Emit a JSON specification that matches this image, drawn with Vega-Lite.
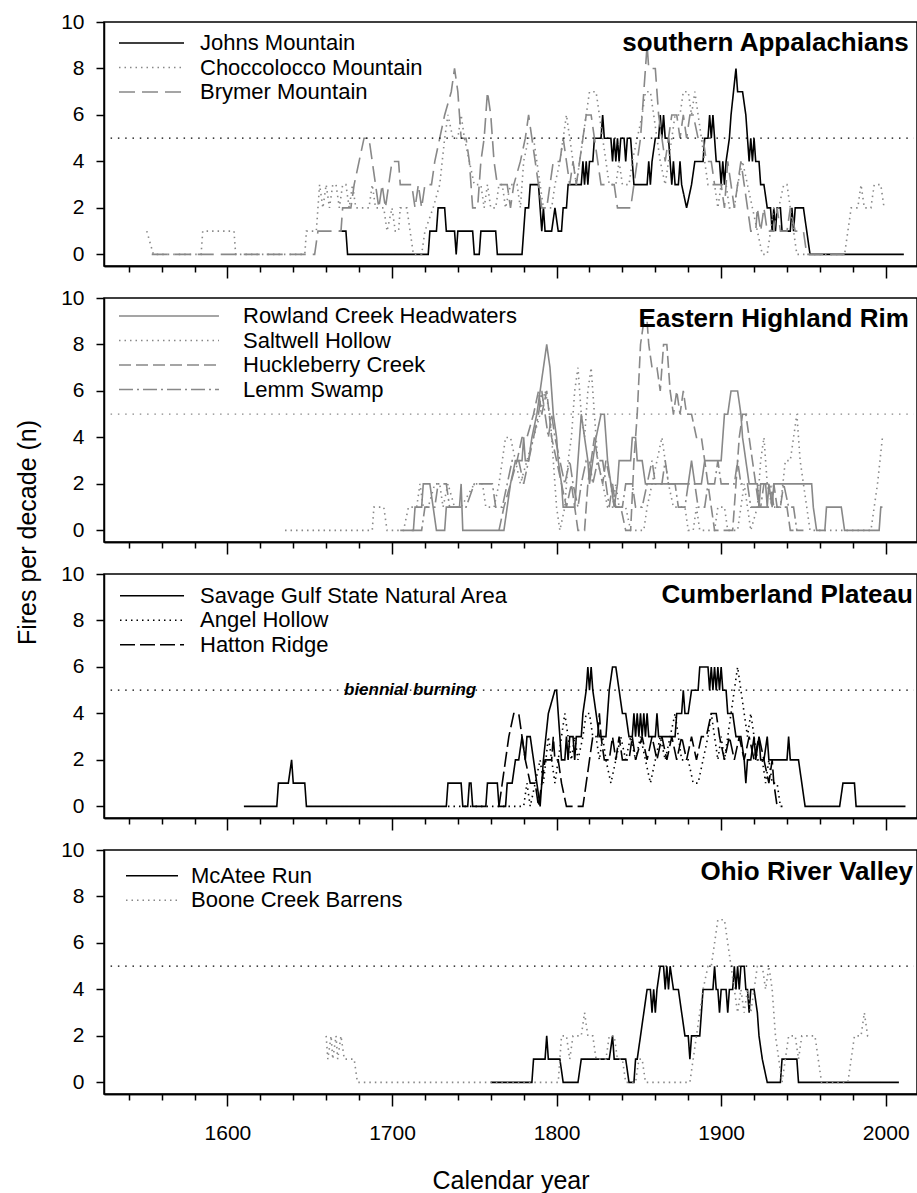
{
"$schema": "https://vega.github.io/schema/vega-lite/v6.json",
"padding": {"left": 14, "top": 10, "right": 0, "bottom": 0},
"config": {
  "font": "Liberation Sans",
  "view": {"stroke": "black", "strokeWidth": 1.5},
  "axis": {"domainColor": "black", "domainWidth": 1.5, "tickColor": "black", "tickWidth": 1.5, "labelColor": "black", "labelFontSize": 21, "titleColor": "black", "titleFontSize": 25, "titleFontWeight": "normal", "grid": false},
  "legend": {"labelColor": "black", "labelFontSize": 22, "padding": 0, "rowPadding": 2.5, "labelLimit": 0, "symbolStrokeWidth": 1.6}
},
"bounds": "flush",
"spacing": 32,
"resolve": {"scale": {"color": "independent", "strokeDash": "independent"}, "legend": {"color": "independent", "strokeDash": "independent"}},
"datasets": {
"p1": [
{"site":"Johns Mountain","year":1668,"n":1},{"site":"Johns Mountain","year":1672,"n":1},{"site":"Johns Mountain","year":1673,"n":0},{"site":"Johns Mountain","year":1722,"n":0},{"site":"Johns Mountain","year":1723,"n":1},{"site":"Johns Mountain","year":1727,"n":1},{"site":"Johns Mountain","year":1728,"n":2},{"site":"Johns Mountain","year":1732,"n":2},{"site":"Johns Mountain","year":1733,"n":1},{"site":"Johns Mountain","year":1738,"n":1},{"site":"Johns Mountain","year":1739,"n":0},{"site":"Johns Mountain","year":1740,"n":1},{"site":"Johns Mountain","year":1749,"n":1},{"site":"Johns Mountain","year":1750,"n":0},{"site":"Johns Mountain","year":1753,"n":0},{"site":"Johns Mountain","year":1754,"n":1},{"site":"Johns Mountain","year":1763,"n":1},{"site":"Johns Mountain","year":1764,"n":0},{"site":"Johns Mountain","year":1779,"n":0},{"site":"Johns Mountain","year":1780,"n":1},{"site":"Johns Mountain","year":1781,"n":2},{"site":"Johns Mountain","year":1783,"n":2},{"site":"Johns Mountain","year":1784,"n":3},{"site":"Johns Mountain","year":1789,"n":3},{"site":"Johns Mountain","year":1790,"n":2},{"site":"Johns Mountain","year":1791,"n":1},{"site":"Johns Mountain","year":1792,"n":2},{"site":"Johns Mountain","year":1793,"n":1},{"site":"Johns Mountain","year":1797,"n":1},{"site":"Johns Mountain","year":1799,"n":2},{"site":"Johns Mountain","year":1801,"n":1},{"site":"Johns Mountain","year":1803,"n":1},{"site":"Johns Mountain","year":1804,"n":2},{"site":"Johns Mountain","year":1806,"n":2},{"site":"Johns Mountain","year":1807,"n":3},{"site":"Johns Mountain","year":1815,"n":3},{"site":"Johns Mountain","year":1816,"n":4},{"site":"Johns Mountain","year":1817,"n":3},{"site":"Johns Mountain","year":1818,"n":4},{"site":"Johns Mountain","year":1819,"n":3},{"site":"Johns Mountain","year":1820,"n":4},{"site":"Johns Mountain","year":1822,"n":4},{"site":"Johns Mountain","year":1823,"n":5},{"site":"Johns Mountain","year":1827,"n":5},{"site":"Johns Mountain","year":1828,"n":6},{"site":"Johns Mountain","year":1829,"n":5},{"site":"Johns Mountain","year":1833,"n":5},{"site":"Johns Mountain","year":1834,"n":4},{"site":"Johns Mountain","year":1835,"n":5},{"site":"Johns Mountain","year":1836,"n":4},{"site":"Johns Mountain","year":1837,"n":5},{"site":"Johns Mountain","year":1838,"n":4},{"site":"Johns Mountain","year":1839,"n":5},{"site":"Johns Mountain","year":1841,"n":5},{"site":"Johns Mountain","year":1842,"n":4},{"site":"Johns Mountain","year":1843,"n":5},{"site":"Johns Mountain","year":1845,"n":5},{"site":"Johns Mountain","year":1846,"n":4},{"site":"Johns Mountain","year":1847,"n":3},{"site":"Johns Mountain","year":1855,"n":3},{"site":"Johns Mountain","year":1856,"n":4},{"site":"Johns Mountain","year":1857,"n":3},{"site":"Johns Mountain","year":1858,"n":4},{"site":"Johns Mountain","year":1860,"n":5},{"site":"Johns Mountain","year":1862,"n":5},{"site":"Johns Mountain","year":1863,"n":6},{"site":"Johns Mountain","year":1864,"n":5},{"site":"Johns Mountain","year":1865,"n":6},{"site":"Johns Mountain","year":1866,"n":5},{"site":"Johns Mountain","year":1868,"n":5},{"site":"Johns Mountain","year":1869,"n":4},{"site":"Johns Mountain","year":1870,"n":3},{"site":"Johns Mountain","year":1871,"n":4},{"site":"Johns Mountain","year":1872,"n":3},{"site":"Johns Mountain","year":1874,"n":3},{"site":"Johns Mountain","year":1875,"n":4},{"site":"Johns Mountain","year":1876,"n":3},{"site":"Johns Mountain","year":1879,"n":2},{"site":"Johns Mountain","year":1882,"n":3},{"site":"Johns Mountain","year":1884,"n":4},{"site":"Johns Mountain","year":1889,"n":4},{"site":"Johns Mountain","year":1890,"n":5},{"site":"Johns Mountain","year":1892,"n":5},{"site":"Johns Mountain","year":1893,"n":6},{"site":"Johns Mountain","year":1894,"n":5},{"site":"Johns Mountain","year":1895,"n":6},{"site":"Johns Mountain","year":1896,"n":5},{"site":"Johns Mountain","year":1897,"n":4},{"site":"Johns Mountain","year":1899,"n":4},{"site":"Johns Mountain","year":1900,"n":3},{"site":"Johns Mountain","year":1901,"n":4},{"site":"Johns Mountain","year":1902,"n":3},{"site":"Johns Mountain","year":1903,"n":4},{"site":"Johns Mountain","year":1905,"n":5},{"site":"Johns Mountain","year":1906,"n":6},{"site":"Johns Mountain","year":1909,"n":8},{"site":"Johns Mountain","year":1910,"n":7},{"site":"Johns Mountain","year":1913,"n":7},{"site":"Johns Mountain","year":1915,"n":6},{"site":"Johns Mountain","year":1916,"n":5},{"site":"Johns Mountain","year":1917,"n":4},{"site":"Johns Mountain","year":1918,"n":5},{"site":"Johns Mountain","year":1919,"n":4},{"site":"Johns Mountain","year":1920,"n":5},{"site":"Johns Mountain","year":1921,"n":4},{"site":"Johns Mountain","year":1923,"n":4},{"site":"Johns Mountain","year":1924,"n":3},{"site":"Johns Mountain","year":1926,"n":3},{"site":"Johns Mountain","year":1928,"n":2},{"site":"Johns Mountain","year":1930,"n":2},{"site":"Johns Mountain","year":1931,"n":1},{"site":"Johns Mountain","year":1932,"n":2},{"site":"Johns Mountain","year":1933,"n":1},{"site":"Johns Mountain","year":1934,"n":2},{"site":"Johns Mountain","year":1936,"n":2},{"site":"Johns Mountain","year":1937,"n":1},{"site":"Johns Mountain","year":1942,"n":1},{"site":"Johns Mountain","year":1943,"n":2},{"site":"Johns Mountain","year":1944,"n":1},{"site":"Johns Mountain","year":1945,"n":2},{"site":"Johns Mountain","year":1950,"n":2},{"site":"Johns Mountain","year":1952,"n":1},{"site":"Johns Mountain","year":1954,"n":0},{"site":"Johns Mountain","year":2011,"n":0},
{"site":"Choccolocco Mountain","year":1551,"n":1},{"site":"Choccolocco Mountain","year":1555,"n":0},{"site":"Choccolocco Mountain","year":1584,"n":0},{"site":"Choccolocco Mountain","year":1585,"n":1},{"site":"Choccolocco Mountain","year":1604,"n":1},{"site":"Choccolocco Mountain","year":1605,"n":0},{"site":"Choccolocco Mountain","year":1647,"n":0},{"site":"Choccolocco Mountain","year":1648,"n":1},{"site":"Choccolocco Mountain","year":1654,"n":1},{"site":"Choccolocco Mountain","year":1655,"n":2},{"site":"Choccolocco Mountain","year":1656,"n":3},{"site":"Choccolocco Mountain","year":1658,"n":2},{"site":"Choccolocco Mountain","year":1660,"n":3},{"site":"Choccolocco Mountain","year":1662,"n":2},{"site":"Choccolocco Mountain","year":1664,"n":3},{"site":"Choccolocco Mountain","year":1666,"n":3},{"site":"Choccolocco Mountain","year":1668,"n":2},{"site":"Choccolocco Mountain","year":1670,"n":3},{"site":"Choccolocco Mountain","year":1672,"n":3},{"site":"Choccolocco Mountain","year":1674,"n":2},{"site":"Choccolocco Mountain","year":1676,"n":3},{"site":"Choccolocco Mountain","year":1678,"n":2},{"site":"Choccolocco Mountain","year":1686,"n":2},{"site":"Choccolocco Mountain","year":1688,"n":3},{"site":"Choccolocco Mountain","year":1690,"n":2},{"site":"Choccolocco Mountain","year":1695,"n":2},{"site":"Choccolocco Mountain","year":1697,"n":1},{"site":"Choccolocco Mountain","year":1700,"n":2},{"site":"Choccolocco Mountain","year":1702,"n":1},{"site":"Choccolocco Mountain","year":1704,"n":1},{"site":"Choccolocco Mountain","year":1705,"n":2},{"site":"Choccolocco Mountain","year":1709,"n":2},{"site":"Choccolocco Mountain","year":1711,"n":1},{"site":"Choccolocco Mountain","year":1713,"n":0},{"site":"Choccolocco Mountain","year":1718,"n":0},{"site":"Choccolocco Mountain","year":1720,"n":1},{"site":"Choccolocco Mountain","year":1725,"n":2},{"site":"Choccolocco Mountain","year":1729,"n":3},{"site":"Choccolocco Mountain","year":1732,"n":5},{"site":"Choccolocco Mountain","year":1734,"n":6},{"site":"Choccolocco Mountain","year":1737,"n":5},{"site":"Choccolocco Mountain","year":1740,"n":5},{"site":"Choccolocco Mountain","year":1742,"n":6},{"site":"Choccolocco Mountain","year":1744,"n":5},{"site":"Choccolocco Mountain","year":1747,"n":4},{"site":"Choccolocco Mountain","year":1750,"n":3},{"site":"Choccolocco Mountain","year":1754,"n":3},{"site":"Choccolocco Mountain","year":1756,"n":2},{"site":"Choccolocco Mountain","year":1758,"n":3},{"site":"Choccolocco Mountain","year":1760,"n":2},{"site":"Choccolocco Mountain","year":1763,"n":2},{"site":"Choccolocco Mountain","year":1765,"n":3},{"site":"Choccolocco Mountain","year":1767,"n":3},{"site":"Choccolocco Mountain","year":1769,"n":2},{"site":"Choccolocco Mountain","year":1772,"n":3},{"site":"Choccolocco Mountain","year":1776,"n":3},{"site":"Choccolocco Mountain","year":1778,"n":2},{"site":"Choccolocco Mountain","year":1780,"n":4},{"site":"Choccolocco Mountain","year":1783,"n":5},{"site":"Choccolocco Mountain","year":1786,"n":5},{"site":"Choccolocco Mountain","year":1788,"n":4},{"site":"Choccolocco Mountain","year":1790,"n":3},{"site":"Choccolocco Mountain","year":1792,"n":2},{"site":"Choccolocco Mountain","year":1797,"n":2},{"site":"Choccolocco Mountain","year":1799,"n":3},{"site":"Choccolocco Mountain","year":1802,"n":4},{"site":"Choccolocco Mountain","year":1804,"n":5},{"site":"Choccolocco Mountain","year":1806,"n":6},{"site":"Choccolocco Mountain","year":1808,"n":5},{"site":"Choccolocco Mountain","year":1810,"n":4},{"site":"Choccolocco Mountain","year":1812,"n":3},{"site":"Choccolocco Mountain","year":1814,"n":4},{"site":"Choccolocco Mountain","year":1816,"n":5},{"site":"Choccolocco Mountain","year":1818,"n":6},{"site":"Choccolocco Mountain","year":1820,"n":7},{"site":"Choccolocco Mountain","year":1824,"n":7},{"site":"Choccolocco Mountain","year":1826,"n":6},{"site":"Choccolocco Mountain","year":1828,"n":5},{"site":"Choccolocco Mountain","year":1830,"n":4},{"site":"Choccolocco Mountain","year":1832,"n":3},{"site":"Choccolocco Mountain","year":1836,"n":3},{"site":"Choccolocco Mountain","year":1838,"n":4},{"site":"Choccolocco Mountain","year":1840,"n":3},{"site":"Choccolocco Mountain","year":1844,"n":3},{"site":"Choccolocco Mountain","year":1846,"n":4},{"site":"Choccolocco Mountain","year":1849,"n":5},{"site":"Choccolocco Mountain","year":1852,"n":6},{"site":"Choccolocco Mountain","year":1854,"n":7},{"site":"Choccolocco Mountain","year":1857,"n":7},{"site":"Choccolocco Mountain","year":1859,"n":6},{"site":"Choccolocco Mountain","year":1861,"n":5},{"site":"Choccolocco Mountain","year":1863,"n":4},{"site":"Choccolocco Mountain","year":1866,"n":3},{"site":"Choccolocco Mountain","year":1868,"n":4},{"site":"Choccolocco Mountain","year":1870,"n":5},{"site":"Choccolocco Mountain","year":1872,"n":6},{"site":"Choccolocco Mountain","year":1875,"n":6},{"site":"Choccolocco Mountain","year":1877,"n":7},{"site":"Choccolocco Mountain","year":1880,"n":7},{"site":"Choccolocco Mountain","year":1882,"n":6},{"site":"Choccolocco Mountain","year":1884,"n":7},{"site":"Choccolocco Mountain","year":1886,"n":6},{"site":"Choccolocco Mountain","year":1888,"n":5},{"site":"Choccolocco Mountain","year":1890,"n":4},{"site":"Choccolocco Mountain","year":1892,"n":3},{"site":"Choccolocco Mountain","year":1896,"n":3},{"site":"Choccolocco Mountain","year":1898,"n":2},{"site":"Choccolocco Mountain","year":1900,"n":3},{"site":"Choccolocco Mountain","year":1903,"n":3},{"site":"Choccolocco Mountain","year":1905,"n":2},{"site":"Choccolocco Mountain","year":1908,"n":2},{"site":"Choccolocco Mountain","year":1910,"n":3},{"site":"Choccolocco Mountain","year":1913,"n":4},{"site":"Choccolocco Mountain","year":1916,"n":3},{"site":"Choccolocco Mountain","year":1919,"n":2},{"site":"Choccolocco Mountain","year":1922,"n":1},{"site":"Choccolocco Mountain","year":1925,"n":0},{"site":"Choccolocco Mountain","year":1928,"n":0},{"site":"Choccolocco Mountain","year":1930,"n":1},{"site":"Choccolocco Mountain","year":1932,"n":2},{"site":"Choccolocco Mountain","year":1935,"n":2},{"site":"Choccolocco Mountain","year":1938,"n":3},{"site":"Choccolocco Mountain","year":1940,"n":3},{"site":"Choccolocco Mountain","year":1942,"n":2},{"site":"Choccolocco Mountain","year":1944,"n":1},{"site":"Choccolocco Mountain","year":1946,"n":0},{"site":"Choccolocco Mountain","year":1975,"n":0},{"site":"Choccolocco Mountain","year":1977,"n":1},{"site":"Choccolocco Mountain","year":1979,"n":2},{"site":"Choccolocco Mountain","year":1983,"n":2},{"site":"Choccolocco Mountain","year":1985,"n":3},{"site":"Choccolocco Mountain","year":1987,"n":2},{"site":"Choccolocco Mountain","year":1991,"n":2},{"site":"Choccolocco Mountain","year":1993,"n":3},{"site":"Choccolocco Mountain","year":1997,"n":3},{"site":"Choccolocco Mountain","year":1999,"n":2},
{"site":"Brymer Mountain","year":1554,"n":0},{"site":"Brymer Mountain","year":1653,"n":0},{"site":"Brymer Mountain","year":1655,"n":1},{"site":"Brymer Mountain","year":1669,"n":1},{"site":"Brymer Mountain","year":1670,"n":2},{"site":"Brymer Mountain","year":1675,"n":2},{"site":"Brymer Mountain","year":1677,"n":3},{"site":"Brymer Mountain","year":1680,"n":4},{"site":"Brymer Mountain","year":1683,"n":5},{"site":"Brymer Mountain","year":1686,"n":5},{"site":"Brymer Mountain","year":1688,"n":4},{"site":"Brymer Mountain","year":1690,"n":3},{"site":"Brymer Mountain","year":1692,"n":2},{"site":"Brymer Mountain","year":1694,"n":3},{"site":"Brymer Mountain","year":1696,"n":2},{"site":"Brymer Mountain","year":1698,"n":3},{"site":"Brymer Mountain","year":1700,"n":4},{"site":"Brymer Mountain","year":1704,"n":4},{"site":"Brymer Mountain","year":1705,"n":3},{"site":"Brymer Mountain","year":1712,"n":3},{"site":"Brymer Mountain","year":1714,"n":2},{"site":"Brymer Mountain","year":1716,"n":3},{"site":"Brymer Mountain","year":1718,"n":2},{"site":"Brymer Mountain","year":1720,"n":3},{"site":"Brymer Mountain","year":1724,"n":3},{"site":"Brymer Mountain","year":1726,"n":4},{"site":"Brymer Mountain","year":1729,"n":5},{"site":"Brymer Mountain","year":1732,"n":6},{"site":"Brymer Mountain","year":1736,"n":7},{"site":"Brymer Mountain","year":1738,"n":8},{"site":"Brymer Mountain","year":1740,"n":7},{"site":"Brymer Mountain","year":1742,"n":5},{"site":"Brymer Mountain","year":1745,"n":5},{"site":"Brymer Mountain","year":1747,"n":4},{"site":"Brymer Mountain","year":1749,"n":2},{"site":"Brymer Mountain","year":1752,"n":2},{"site":"Brymer Mountain","year":1753,"n":3},{"site":"Brymer Mountain","year":1754,"n":4},{"site":"Brymer Mountain","year":1756,"n":5},{"site":"Brymer Mountain","year":1758,"n":7},{"site":"Brymer Mountain","year":1760,"n":6},{"site":"Brymer Mountain","year":1762,"n":4},{"site":"Brymer Mountain","year":1764,"n":3},{"site":"Brymer Mountain","year":1770,"n":3},{"site":"Brymer Mountain","year":1772,"n":2},{"site":"Brymer Mountain","year":1774,"n":3},{"site":"Brymer Mountain","year":1778,"n":4},{"site":"Brymer Mountain","year":1781,"n":5},{"site":"Brymer Mountain","year":1783,"n":6},{"site":"Brymer Mountain","year":1785,"n":5},{"site":"Brymer Mountain","year":1787,"n":4},{"site":"Brymer Mountain","year":1789,"n":3},{"site":"Brymer Mountain","year":1791,"n":2},{"site":"Brymer Mountain","year":1794,"n":2},{"site":"Brymer Mountain","year":1796,"n":3},{"site":"Brymer Mountain","year":1798,"n":4},{"site":"Brymer Mountain","year":1802,"n":4},{"site":"Brymer Mountain","year":1804,"n":5},{"site":"Brymer Mountain","year":1806,"n":4},{"site":"Brymer Mountain","year":1808,"n":3},{"site":"Brymer Mountain","year":1810,"n":4},{"site":"Brymer Mountain","year":1812,"n":3},{"site":"Brymer Mountain","year":1814,"n":4},{"site":"Brymer Mountain","year":1816,"n":5},{"site":"Brymer Mountain","year":1818,"n":6},{"site":"Brymer Mountain","year":1821,"n":6},{"site":"Brymer Mountain","year":1823,"n":5},{"site":"Brymer Mountain","year":1825,"n":4},{"site":"Brymer Mountain","year":1827,"n":3},{"site":"Brymer Mountain","year":1835,"n":3},{"site":"Brymer Mountain","year":1837,"n":2},{"site":"Brymer Mountain","year":1845,"n":2},{"site":"Brymer Mountain","year":1847,"n":3},{"site":"Brymer Mountain","year":1849,"n":4},{"site":"Brymer Mountain","year":1851,"n":5},{"site":"Brymer Mountain","year":1853,"n":7},{"site":"Brymer Mountain","year":1855,"n":9},{"site":"Brymer Mountain","year":1856,"n":8},{"site":"Brymer Mountain","year":1860,"n":8},{"site":"Brymer Mountain","year":1861,"n":7},{"site":"Brymer Mountain","year":1862,"n":6},{"site":"Brymer Mountain","year":1864,"n":5},{"site":"Brymer Mountain","year":1866,"n":4},{"site":"Brymer Mountain","year":1868,"n":5},{"site":"Brymer Mountain","year":1870,"n":6},{"site":"Brymer Mountain","year":1873,"n":6},{"site":"Brymer Mountain","year":1875,"n":5},{"site":"Brymer Mountain","year":1877,"n":6},{"site":"Brymer Mountain","year":1879,"n":5},{"site":"Brymer Mountain","year":1881,"n":6},{"site":"Brymer Mountain","year":1883,"n":6},{"site":"Brymer Mountain","year":1886,"n":5},{"site":"Brymer Mountain","year":1889,"n":5},{"site":"Brymer Mountain","year":1891,"n":4},{"site":"Brymer Mountain","year":1894,"n":4},{"site":"Brymer Mountain","year":1896,"n":3},{"site":"Brymer Mountain","year":1900,"n":3},{"site":"Brymer Mountain","year":1902,"n":2},{"site":"Brymer Mountain","year":1904,"n":4},{"site":"Brymer Mountain","year":1906,"n":3},{"site":"Brymer Mountain","year":1908,"n":2},{"site":"Brymer Mountain","year":1910,"n":3},{"site":"Brymer Mountain","year":1912,"n":4},{"site":"Brymer Mountain","year":1914,"n":3},{"site":"Brymer Mountain","year":1916,"n":2},{"site":"Brymer Mountain","year":1918,"n":1},{"site":"Brymer Mountain","year":1921,"n":1},{"site":"Brymer Mountain","year":1922,"n":2},{"site":"Brymer Mountain","year":1924,"n":1},{"site":"Brymer Mountain","year":1926,"n":2},{"site":"Brymer Mountain","year":1928,"n":1},{"site":"Brymer Mountain","year":1932,"n":1},{"site":"Brymer Mountain","year":1934,"n":2},{"site":"Brymer Mountain","year":1936,"n":1},{"site":"Brymer Mountain","year":1940,"n":1},{"site":"Brymer Mountain","year":1942,"n":2},{"site":"Brymer Mountain","year":1945,"n":1},{"site":"Brymer Mountain","year":1950,"n":1},{"site":"Brymer Mountain","year":1952,"n":0},{"site":"Brymer Mountain","year":1975,"n":0}
],
"p2": [
{"site":"Rowland Creek Headwaters","year":1705,"n":0},{"site":"Rowland Creek Headwaters","year":1713,"n":0},{"site":"Rowland Creek Headwaters","year":1714,"n":1},{"site":"Rowland Creek Headwaters","year":1718,"n":1},{"site":"Rowland Creek Headwaters","year":1719,"n":2},{"site":"Rowland Creek Headwaters","year":1723,"n":2},{"site":"Rowland Creek Headwaters","year":1725,"n":1},{"site":"Rowland Creek Headwaters","year":1727,"n":0},{"site":"Rowland Creek Headwaters","year":1732,"n":0},{"site":"Rowland Creek Headwaters","year":1733,"n":1},{"site":"Rowland Creek Headwaters","year":1741,"n":1},{"site":"Rowland Creek Headwaters","year":1742,"n":2},{"site":"Rowland Creek Headwaters","year":1743,"n":0},{"site":"Rowland Creek Headwaters","year":1768,"n":0},{"site":"Rowland Creek Headwaters","year":1770,"n":1},{"site":"Rowland Creek Headwaters","year":1772,"n":2},{"site":"Rowland Creek Headwaters","year":1775,"n":3},{"site":"Rowland Creek Headwaters","year":1779,"n":3},{"site":"Rowland Creek Headwaters","year":1780,"n":4},{"site":"Rowland Creek Headwaters","year":1781,"n":3},{"site":"Rowland Creek Headwaters","year":1783,"n":3},{"site":"Rowland Creek Headwaters","year":1785,"n":4},{"site":"Rowland Creek Headwaters","year":1788,"n":5},{"site":"Rowland Creek Headwaters","year":1790,"n":6},{"site":"Rowland Creek Headwaters","year":1792,"n":7},{"site":"Rowland Creek Headwaters","year":1794,"n":8},{"site":"Rowland Creek Headwaters","year":1796,"n":7},{"site":"Rowland Creek Headwaters","year":1797,"n":6},{"site":"Rowland Creek Headwaters","year":1798,"n":5},{"site":"Rowland Creek Headwaters","year":1800,"n":4},{"site":"Rowland Creek Headwaters","year":1801,"n":3},{"site":"Rowland Creek Headwaters","year":1803,"n":2},{"site":"Rowland Creek Headwaters","year":1804,"n":1},{"site":"Rowland Creek Headwaters","year":1811,"n":1},{"site":"Rowland Creek Headwaters","year":1813,"n":3},{"site":"Rowland Creek Headwaters","year":1815,"n":5},{"site":"Rowland Creek Headwaters","year":1817,"n":4},{"site":"Rowland Creek Headwaters","year":1819,"n":3},{"site":"Rowland Creek Headwaters","year":1820,"n":2},{"site":"Rowland Creek Headwaters","year":1822,"n":3},{"site":"Rowland Creek Headwaters","year":1824,"n":4},{"site":"Rowland Creek Headwaters","year":1827,"n":5},{"site":"Rowland Creek Headwaters","year":1829,"n":5},{"site":"Rowland Creek Headwaters","year":1831,"n":3},{"site":"Rowland Creek Headwaters","year":1833,"n":2},{"site":"Rowland Creek Headwaters","year":1835,"n":1},{"site":"Rowland Creek Headwaters","year":1837,"n":2},{"site":"Rowland Creek Headwaters","year":1838,"n":3},{"site":"Rowland Creek Headwaters","year":1845,"n":3},{"site":"Rowland Creek Headwaters","year":1846,"n":4},{"site":"Rowland Creek Headwaters","year":1848,"n":4},{"site":"Rowland Creek Headwaters","year":1849,"n":3},{"site":"Rowland Creek Headwaters","year":1852,"n":3},{"site":"Rowland Creek Headwaters","year":1854,"n":2},{"site":"Rowland Creek Headwaters","year":1880,"n":2},{"site":"Rowland Creek Headwaters","year":1882,"n":3},{"site":"Rowland Creek Headwaters","year":1884,"n":2},{"site":"Rowland Creek Headwaters","year":1888,"n":2},{"site":"Rowland Creek Headwaters","year":1890,"n":3},{"site":"Rowland Creek Headwaters","year":1900,"n":3},{"site":"Rowland Creek Headwaters","year":1902,"n":5},{"site":"Rowland Creek Headwaters","year":1904,"n":5},{"site":"Rowland Creek Headwaters","year":1906,"n":6},{"site":"Rowland Creek Headwaters","year":1910,"n":6},{"site":"Rowland Creek Headwaters","year":1912,"n":5},{"site":"Rowland Creek Headwaters","year":1913,"n":4},{"site":"Rowland Creek Headwaters","year":1915,"n":3},{"site":"Rowland Creek Headwaters","year":1917,"n":2},{"site":"Rowland Creek Headwaters","year":1922,"n":2},{"site":"Rowland Creek Headwaters","year":1923,"n":1},{"site":"Rowland Creek Headwaters","year":1924,"n":2},{"site":"Rowland Creek Headwaters","year":1927,"n":2},{"site":"Rowland Creek Headwaters","year":1928,"n":1},{"site":"Rowland Creek Headwaters","year":1929,"n":2},{"site":"Rowland Creek Headwaters","year":1931,"n":1},{"site":"Rowland Creek Headwaters","year":1932,"n":2},{"site":"Rowland Creek Headwaters","year":1955,"n":2},{"site":"Rowland Creek Headwaters","year":1956,"n":1},{"site":"Rowland Creek Headwaters","year":1958,"n":0},{"site":"Rowland Creek Headwaters","year":1963,"n":0},{"site":"Rowland Creek Headwaters","year":1964,"n":1},{"site":"Rowland Creek Headwaters","year":1973,"n":1},{"site":"Rowland Creek Headwaters","year":1975,"n":0},{"site":"Rowland Creek Headwaters","year":1996,"n":0},{"site":"Rowland Creek Headwaters","year":1997,"n":1},{"site":"Rowland Creek Headwaters","year":1998,"n":1},
{"site":"Saltwell Hollow","year":1635,"n":0},{"site":"Saltwell Hollow","year":1688,"n":0},{"site":"Saltwell Hollow","year":1689,"n":1},{"site":"Saltwell Hollow","year":1695,"n":1},{"site":"Saltwell Hollow","year":1697,"n":0},{"site":"Saltwell Hollow","year":1707,"n":0},{"site":"Saltwell Hollow","year":1710,"n":1},{"site":"Saltwell Hollow","year":1715,"n":1},{"site":"Saltwell Hollow","year":1717,"n":2},{"site":"Saltwell Hollow","year":1719,"n":1},{"site":"Saltwell Hollow","year":1722,"n":1},{"site":"Saltwell Hollow","year":1726,"n":2},{"site":"Saltwell Hollow","year":1729,"n":2},{"site":"Saltwell Hollow","year":1731,"n":1},{"site":"Saltwell Hollow","year":1734,"n":2},{"site":"Saltwell Hollow","year":1738,"n":1},{"site":"Saltwell Hollow","year":1742,"n":1},{"site":"Saltwell Hollow","year":1750,"n":2},{"site":"Saltwell Hollow","year":1755,"n":2},{"site":"Saltwell Hollow","year":1757,"n":1},{"site":"Saltwell Hollow","year":1762,"n":1},{"site":"Saltwell Hollow","year":1765,"n":2},{"site":"Saltwell Hollow","year":1767,"n":3},{"site":"Saltwell Hollow","year":1769,"n":4},{"site":"Saltwell Hollow","year":1772,"n":4},{"site":"Saltwell Hollow","year":1775,"n":3},{"site":"Saltwell Hollow","year":1778,"n":2},{"site":"Saltwell Hollow","year":1782,"n":3},{"site":"Saltwell Hollow","year":1786,"n":4},{"site":"Saltwell Hollow","year":1790,"n":5},{"site":"Saltwell Hollow","year":1793,"n":6},{"site":"Saltwell Hollow","year":1796,"n":5},{"site":"Saltwell Hollow","year":1798,"n":3},{"site":"Saltwell Hollow","year":1800,"n":1},{"site":"Saltwell Hollow","year":1802,"n":0},{"site":"Saltwell Hollow","year":1805,"n":1},{"site":"Saltwell Hollow","year":1807,"n":3},{"site":"Saltwell Hollow","year":1809,"n":4},{"site":"Saltwell Hollow","year":1811,"n":6},{"site":"Saltwell Hollow","year":1813,"n":7},{"site":"Saltwell Hollow","year":1815,"n":5},{"site":"Saltwell Hollow","year":1817,"n":4},{"site":"Saltwell Hollow","year":1819,"n":6},{"site":"Saltwell Hollow","year":1821,"n":7},{"site":"Saltwell Hollow","year":1823,"n":5},{"site":"Saltwell Hollow","year":1825,"n":3},{"site":"Saltwell Hollow","year":1828,"n":2},{"site":"Saltwell Hollow","year":1831,"n":1},{"site":"Saltwell Hollow","year":1834,"n":1},{"site":"Saltwell Hollow","year":1836,"n":2},{"site":"Saltwell Hollow","year":1838,"n":1},{"site":"Saltwell Hollow","year":1842,"n":1},{"site":"Saltwell Hollow","year":1845,"n":0},{"site":"Saltwell Hollow","year":1853,"n":0},{"site":"Saltwell Hollow","year":1855,"n":1},{"site":"Saltwell Hollow","year":1858,"n":2},{"site":"Saltwell Hollow","year":1861,"n":3},{"site":"Saltwell Hollow","year":1864,"n":4},{"site":"Saltwell Hollow","year":1866,"n":3},{"site":"Saltwell Hollow","year":1868,"n":2},{"site":"Saltwell Hollow","year":1871,"n":1},{"site":"Saltwell Hollow","year":1878,"n":1},{"site":"Saltwell Hollow","year":1880,"n":0},{"site":"Saltwell Hollow","year":1883,"n":0},{"site":"Saltwell Hollow","year":1885,"n":1},{"site":"Saltwell Hollow","year":1887,"n":0},{"site":"Saltwell Hollow","year":1896,"n":0},{"site":"Saltwell Hollow","year":1898,"n":1},{"site":"Saltwell Hollow","year":1902,"n":1},{"site":"Saltwell Hollow","year":1904,"n":0},{"site":"Saltwell Hollow","year":1910,"n":0},{"site":"Saltwell Hollow","year":1912,"n":1},{"site":"Saltwell Hollow","year":1914,"n":2},{"site":"Saltwell Hollow","year":1916,"n":1},{"site":"Saltwell Hollow","year":1918,"n":0},{"site":"Saltwell Hollow","year":1922,"n":1},{"site":"Saltwell Hollow","year":1924,"n":3},{"site":"Saltwell Hollow","year":1926,"n":4},{"site":"Saltwell Hollow","year":1928,"n":2},{"site":"Saltwell Hollow","year":1931,"n":1},{"site":"Saltwell Hollow","year":1936,"n":1},{"site":"Saltwell Hollow","year":1939,"n":3},{"site":"Saltwell Hollow","year":1942,"n":3},{"site":"Saltwell Hollow","year":1944,"n":4},{"site":"Saltwell Hollow","year":1946,"n":5},{"site":"Saltwell Hollow","year":1948,"n":3},{"site":"Saltwell Hollow","year":1950,"n":2},{"site":"Saltwell Hollow","year":1952,"n":1},{"site":"Saltwell Hollow","year":1954,"n":0},{"site":"Saltwell Hollow","year":1991,"n":0},{"site":"Saltwell Hollow","year":1993,"n":1},{"site":"Saltwell Hollow","year":1995,"n":2},{"site":"Saltwell Hollow","year":1998,"n":4},
{"site":"Huckleberry Creek","year":1765,"n":0},{"site":"Huckleberry Creek","year":1768,"n":1},{"site":"Huckleberry Creek","year":1772,"n":2},{"site":"Huckleberry Creek","year":1776,"n":3},{"site":"Huckleberry Creek","year":1779,"n":4},{"site":"Huckleberry Creek","year":1782,"n":4},{"site":"Huckleberry Creek","year":1786,"n":5},{"site":"Huckleberry Creek","year":1789,"n":6},{"site":"Huckleberry Creek","year":1791,"n":5},{"site":"Huckleberry Creek","year":1794,"n":6},{"site":"Huckleberry Creek","year":1797,"n":4},{"site":"Huckleberry Creek","year":1800,"n":3},{"site":"Huckleberry Creek","year":1803,"n":2},{"site":"Huckleberry Creek","year":1806,"n":1},{"site":"Huckleberry Creek","year":1809,"n":2},{"site":"Huckleberry Creek","year":1811,"n":1},{"site":"Huckleberry Creek","year":1813,"n":0},{"site":"Huckleberry Creek","year":1817,"n":0},{"site":"Huckleberry Creek","year":1819,"n":2},{"site":"Huckleberry Creek","year":1821,"n":3},{"site":"Huckleberry Creek","year":1823,"n":4},{"site":"Huckleberry Creek","year":1825,"n":3},{"site":"Huckleberry Creek","year":1828,"n":2},{"site":"Huckleberry Creek","year":1830,"n":3},{"site":"Huckleberry Creek","year":1833,"n":2},{"site":"Huckleberry Creek","year":1836,"n":1},{"site":"Huckleberry Creek","year":1839,"n":1},{"site":"Huckleberry Creek","year":1842,"n":0},{"site":"Huckleberry Creek","year":1845,"n":0},{"site":"Huckleberry Creek","year":1847,"n":3},{"site":"Huckleberry Creek","year":1849,"n":5},{"site":"Huckleberry Creek","year":1851,"n":8},{"site":"Huckleberry Creek","year":1853,"n":9},{"site":"Huckleberry Creek","year":1855,"n":9},{"site":"Huckleberry Creek","year":1856,"n":8},{"site":"Huckleberry Creek","year":1858,"n":7},{"site":"Huckleberry Creek","year":1861,"n":7},{"site":"Huckleberry Creek","year":1863,"n":6},{"site":"Huckleberry Creek","year":1865,"n":8},{"site":"Huckleberry Creek","year":1867,"n":8},{"site":"Huckleberry Creek","year":1869,"n":6},{"site":"Huckleberry Creek","year":1871,"n":5},{"site":"Huckleberry Creek","year":1873,"n":6},{"site":"Huckleberry Creek","year":1875,"n":5},{"site":"Huckleberry Creek","year":1877,"n":6},{"site":"Huckleberry Creek","year":1879,"n":5},{"site":"Huckleberry Creek","year":1882,"n":5},{"site":"Huckleberry Creek","year":1885,"n":4},{"site":"Huckleberry Creek","year":1888,"n":4},{"site":"Huckleberry Creek","year":1890,"n":3},{"site":"Huckleberry Creek","year":1892,"n":2},{"site":"Huckleberry Creek","year":1894,"n":1},{"site":"Huckleberry Creek","year":1896,"n":0},{"site":"Huckleberry Creek","year":1907,"n":0},{"site":"Huckleberry Creek","year":1909,"n":2},{"site":"Huckleberry Creek","year":1911,"n":4},{"site":"Huckleberry Creek","year":1913,"n":5},{"site":"Huckleberry Creek","year":1915,"n":5},{"site":"Huckleberry Creek","year":1917,"n":4},{"site":"Huckleberry Creek","year":1919,"n":3},{"site":"Huckleberry Creek","year":1921,"n":2},{"site":"Huckleberry Creek","year":1923,"n":1},{"site":"Huckleberry Creek","year":1930,"n":1},{"site":"Huckleberry Creek","year":1932,"n":2},{"site":"Huckleberry Creek","year":1934,"n":1},{"site":"Huckleberry Creek","year":1940,"n":1},{"site":"Huckleberry Creek","year":1942,"n":0},{"site":"Huckleberry Creek","year":1946,"n":0},
{"site":"Lemm Swamp","year":1712,"n":0},{"site":"Lemm Swamp","year":1718,"n":0},{"site":"Lemm Swamp","year":1720,"n":1},{"site":"Lemm Swamp","year":1726,"n":1},{"site":"Lemm Swamp","year":1728,"n":2},{"site":"Lemm Swamp","year":1733,"n":2},{"site":"Lemm Swamp","year":1735,"n":1},{"site":"Lemm Swamp","year":1745,"n":1},{"site":"Lemm Swamp","year":1750,"n":2},{"site":"Lemm Swamp","year":1761,"n":2},{"site":"Lemm Swamp","year":1763,"n":1},{"site":"Lemm Swamp","year":1767,"n":1},{"site":"Lemm Swamp","year":1770,"n":2},{"site":"Lemm Swamp","year":1773,"n":3},{"site":"Lemm Swamp","year":1777,"n":3},{"site":"Lemm Swamp","year":1780,"n":2},{"site":"Lemm Swamp","year":1783,"n":3},{"site":"Lemm Swamp","year":1786,"n":4},{"site":"Lemm Swamp","year":1789,"n":5},{"site":"Lemm Swamp","year":1791,"n":6},{"site":"Lemm Swamp","year":1793,"n":5},{"site":"Lemm Swamp","year":1795,"n":4},{"site":"Lemm Swamp","year":1797,"n":5},{"site":"Lemm Swamp","year":1799,"n":4},{"site":"Lemm Swamp","year":1802,"n":3},{"site":"Lemm Swamp","year":1805,"n":2},{"site":"Lemm Swamp","year":1808,"n":3},{"site":"Lemm Swamp","year":1810,"n":2},{"site":"Lemm Swamp","year":1813,"n":1},{"site":"Lemm Swamp","year":1815,"n":2},{"site":"Lemm Swamp","year":1818,"n":3},{"site":"Lemm Swamp","year":1820,"n":3},{"site":"Lemm Swamp","year":1822,"n":2},{"site":"Lemm Swamp","year":1825,"n":3},{"site":"Lemm Swamp","year":1828,"n":3},{"site":"Lemm Swamp","year":1830,"n":2},{"site":"Lemm Swamp","year":1832,"n":1},{"site":"Lemm Swamp","year":1834,"n":2},{"site":"Lemm Swamp","year":1836,"n":1},{"site":"Lemm Swamp","year":1840,"n":1},{"site":"Lemm Swamp","year":1842,"n":2},{"site":"Lemm Swamp","year":1846,"n":2},{"site":"Lemm Swamp","year":1848,"n":1},{"site":"Lemm Swamp","year":1852,"n":1},{"site":"Lemm Swamp","year":1855,"n":2},{"site":"Lemm Swamp","year":1858,"n":3},{"site":"Lemm Swamp","year":1860,"n":2},{"site":"Lemm Swamp","year":1864,"n":2},{"site":"Lemm Swamp","year":1866,"n":3},{"site":"Lemm Swamp","year":1868,"n":2},{"site":"Lemm Swamp","year":1872,"n":2},{"site":"Lemm Swamp","year":1874,"n":1},{"site":"Lemm Swamp","year":1878,"n":1},{"site":"Lemm Swamp","year":1880,"n":2},{"site":"Lemm Swamp","year":1884,"n":2},{"site":"Lemm Swamp","year":1886,"n":1},{"site":"Lemm Swamp","year":1890,"n":1},{"site":"Lemm Swamp","year":1892,"n":2},{"site":"Lemm Swamp","year":1896,"n":2},{"site":"Lemm Swamp","year":1898,"n":3},{"site":"Lemm Swamp","year":1900,"n":2},{"site":"Lemm Swamp","year":1908,"n":2},{"site":"Lemm Swamp","year":1910,"n":3},{"site":"Lemm Swamp","year":1912,"n":2},{"site":"Lemm Swamp","year":1916,"n":2},{"site":"Lemm Swamp","year":1918,"n":1},{"site":"Lemm Swamp","year":1924,"n":1},{"site":"Lemm Swamp","year":1926,"n":2},{"site":"Lemm Swamp","year":1930,"n":2},{"site":"Lemm Swamp","year":1932,"n":1},{"site":"Lemm Swamp","year":1936,"n":1},{"site":"Lemm Swamp","year":1938,"n":2},{"site":"Lemm Swamp","year":1941,"n":1},{"site":"Lemm Swamp","year":1944,"n":1},{"site":"Lemm Swamp","year":1946,"n":0},{"site":"Lemm Swamp","year":1950,"n":0}
],
"p3": [
{"site":"Savage Gulf State Natural Area","year":1610,"n":0},{"site":"Savage Gulf State Natural Area","year":1630,"n":0},{"site":"Savage Gulf State Natural Area","year":1631,"n":1},{"site":"Savage Gulf State Natural Area","year":1637,"n":1},{"site":"Savage Gulf State Natural Area","year":1639,"n":2},{"site":"Savage Gulf State Natural Area","year":1640,"n":1},{"site":"Savage Gulf State Natural Area","year":1647,"n":1},{"site":"Savage Gulf State Natural Area","year":1648,"n":0},{"site":"Savage Gulf State Natural Area","year":1733,"n":0},{"site":"Savage Gulf State Natural Area","year":1734,"n":1},{"site":"Savage Gulf State Natural Area","year":1742,"n":1},{"site":"Savage Gulf State Natural Area","year":1743,"n":0},{"site":"Savage Gulf State Natural Area","year":1746,"n":0},{"site":"Savage Gulf State Natural Area","year":1747,"n":1},{"site":"Savage Gulf State Natural Area","year":1748,"n":1},{"site":"Savage Gulf State Natural Area","year":1749,"n":0},{"site":"Savage Gulf State Natural Area","year":1757,"n":0},{"site":"Savage Gulf State Natural Area","year":1758,"n":1},{"site":"Savage Gulf State Natural Area","year":1764,"n":1},{"site":"Savage Gulf State Natural Area","year":1765,"n":0},{"site":"Savage Gulf State Natural Area","year":1769,"n":0},{"site":"Savage Gulf State Natural Area","year":1770,"n":1},{"site":"Savage Gulf State Natural Area","year":1773,"n":1},{"site":"Savage Gulf State Natural Area","year":1775,"n":2},{"site":"Savage Gulf State Natural Area","year":1777,"n":2},{"site":"Savage Gulf State Natural Area","year":1779,"n":3},{"site":"Savage Gulf State Natural Area","year":1781,"n":2},{"site":"Savage Gulf State Natural Area","year":1782,"n":3},{"site":"Savage Gulf State Natural Area","year":1784,"n":3},{"site":"Savage Gulf State Natural Area","year":1786,"n":2},{"site":"Savage Gulf State Natural Area","year":1788,"n":1},{"site":"Savage Gulf State Natural Area","year":1790,"n":0},{"site":"Savage Gulf State Natural Area","year":1792,"n":2},{"site":"Savage Gulf State Natural Area","year":1795,"n":4},{"site":"Savage Gulf State Natural Area","year":1799,"n":5},{"site":"Savage Gulf State Natural Area","year":1800,"n":5},{"site":"Savage Gulf State Natural Area","year":1802,"n":3},{"site":"Savage Gulf State Natural Area","year":1803,"n":2},{"site":"Savage Gulf State Natural Area","year":1805,"n":2},{"site":"Savage Gulf State Natural Area","year":1806,"n":3},{"site":"Savage Gulf State Natural Area","year":1807,"n":2},{"site":"Savage Gulf State Natural Area","year":1808,"n":3},{"site":"Savage Gulf State Natural Area","year":1810,"n":3},{"site":"Savage Gulf State Natural Area","year":1811,"n":2},{"site":"Savage Gulf State Natural Area","year":1812,"n":3},{"site":"Savage Gulf State Natural Area","year":1815,"n":3},{"site":"Savage Gulf State Natural Area","year":1816,"n":4},{"site":"Savage Gulf State Natural Area","year":1818,"n":5},{"site":"Savage Gulf State Natural Area","year":1819,"n":6},{"site":"Savage Gulf State Natural Area","year":1820,"n":5},{"site":"Savage Gulf State Natural Area","year":1821,"n":6},{"site":"Savage Gulf State Natural Area","year":1822,"n":5},{"site":"Savage Gulf State Natural Area","year":1824,"n":4},{"site":"Savage Gulf State Natural Area","year":1826,"n":3},{"site":"Savage Gulf State Natural Area","year":1830,"n":3},{"site":"Savage Gulf State Natural Area","year":1832,"n":5},{"site":"Savage Gulf State Natural Area","year":1834,"n":6},{"site":"Savage Gulf State Natural Area","year":1836,"n":6},{"site":"Savage Gulf State Natural Area","year":1838,"n":5},{"site":"Savage Gulf State Natural Area","year":1840,"n":4},{"site":"Savage Gulf State Natural Area","year":1842,"n":4},{"site":"Savage Gulf State Natural Area","year":1844,"n":3},{"site":"Savage Gulf State Natural Area","year":1846,"n":3},{"site":"Savage Gulf State Natural Area","year":1847,"n":4},{"site":"Savage Gulf State Natural Area","year":1848,"n":3},{"site":"Savage Gulf State Natural Area","year":1849,"n":4},{"site":"Savage Gulf State Natural Area","year":1850,"n":3},{"site":"Savage Gulf State Natural Area","year":1851,"n":4},{"site":"Savage Gulf State Natural Area","year":1852,"n":3},{"site":"Savage Gulf State Natural Area","year":1853,"n":4},{"site":"Savage Gulf State Natural Area","year":1854,"n":3},{"site":"Savage Gulf State Natural Area","year":1855,"n":4},{"site":"Savage Gulf State Natural Area","year":1856,"n":3},{"site":"Savage Gulf State Natural Area","year":1860,"n":3},{"site":"Savage Gulf State Natural Area","year":1861,"n":4},{"site":"Savage Gulf State Natural Area","year":1862,"n":3},{"site":"Savage Gulf State Natural Area","year":1872,"n":3},{"site":"Savage Gulf State Natural Area","year":1873,"n":4},{"site":"Savage Gulf State Natural Area","year":1876,"n":4},{"site":"Savage Gulf State Natural Area","year":1877,"n":5},{"site":"Savage Gulf State Natural Area","year":1878,"n":4},{"site":"Savage Gulf State Natural Area","year":1880,"n":4},{"site":"Savage Gulf State Natural Area","year":1882,"n":5},{"site":"Savage Gulf State Natural Area","year":1886,"n":5},{"site":"Savage Gulf State Natural Area","year":1887,"n":6},{"site":"Savage Gulf State Natural Area","year":1892,"n":6},{"site":"Savage Gulf State Natural Area","year":1893,"n":5},{"site":"Savage Gulf State Natural Area","year":1894,"n":6},{"site":"Savage Gulf State Natural Area","year":1895,"n":5},{"site":"Savage Gulf State Natural Area","year":1896,"n":6},{"site":"Savage Gulf State Natural Area","year":1897,"n":5},{"site":"Savage Gulf State Natural Area","year":1898,"n":6},{"site":"Savage Gulf State Natural Area","year":1899,"n":5},{"site":"Savage Gulf State Natural Area","year":1900,"n":6},{"site":"Savage Gulf State Natural Area","year":1901,"n":5},{"site":"Savage Gulf State Natural Area","year":1903,"n":5},{"site":"Savage Gulf State Natural Area","year":1904,"n":4},{"site":"Savage Gulf State Natural Area","year":1907,"n":4},{"site":"Savage Gulf State Natural Area","year":1909,"n":3},{"site":"Savage Gulf State Natural Area","year":1912,"n":3},{"site":"Savage Gulf State Natural Area","year":1914,"n":2},{"site":"Savage Gulf State Natural Area","year":1915,"n":1},{"site":"Savage Gulf State Natural Area","year":1916,"n":2},{"site":"Savage Gulf State Natural Area","year":1918,"n":2},{"site":"Savage Gulf State Natural Area","year":1920,"n":3},{"site":"Savage Gulf State Natural Area","year":1921,"n":2},{"site":"Savage Gulf State Natural Area","year":1923,"n":3},{"site":"Savage Gulf State Natural Area","year":1924,"n":2},{"site":"Savage Gulf State Natural Area","year":1926,"n":2},{"site":"Savage Gulf State Natural Area","year":1928,"n":3},{"site":"Savage Gulf State Natural Area","year":1929,"n":2},{"site":"Savage Gulf State Natural Area","year":1940,"n":2},{"site":"Savage Gulf State Natural Area","year":1941,"n":3},{"site":"Savage Gulf State Natural Area","year":1942,"n":2},{"site":"Savage Gulf State Natural Area","year":1947,"n":2},{"site":"Savage Gulf State Natural Area","year":1949,"n":1},{"site":"Savage Gulf State Natural Area","year":1951,"n":0},{"site":"Savage Gulf State Natural Area","year":1972,"n":0},{"site":"Savage Gulf State Natural Area","year":1974,"n":1},{"site":"Savage Gulf State Natural Area","year":1981,"n":1},{"site":"Savage Gulf State Natural Area","year":1982,"n":0},{"site":"Savage Gulf State Natural Area","year":2012,"n":0},
{"site":"Angel Hollow","year":1734,"n":0},{"site":"Angel Hollow","year":1780,"n":0},{"site":"Angel Hollow","year":1782,"n":1},{"site":"Angel Hollow","year":1784,"n":0},{"site":"Angel Hollow","year":1787,"n":1},{"site":"Angel Hollow","year":1790,"n":2},{"site":"Angel Hollow","year":1792,"n":1},{"site":"Angel Hollow","year":1795,"n":3},{"site":"Angel Hollow","year":1797,"n":2},{"site":"Angel Hollow","year":1799,"n":1},{"site":"Angel Hollow","year":1801,"n":2},{"site":"Angel Hollow","year":1803,"n":3},{"site":"Angel Hollow","year":1805,"n":4},{"site":"Angel Hollow","year":1807,"n":3},{"site":"Angel Hollow","year":1809,"n":2},{"site":"Angel Hollow","year":1811,"n":3},{"site":"Angel Hollow","year":1813,"n":2},{"site":"Angel Hollow","year":1816,"n":3},{"site":"Angel Hollow","year":1818,"n":4},{"site":"Angel Hollow","year":1820,"n":4},{"site":"Angel Hollow","year":1822,"n":3},{"site":"Angel Hollow","year":1824,"n":3},{"site":"Angel Hollow","year":1826,"n":2},{"site":"Angel Hollow","year":1828,"n":3},{"site":"Angel Hollow","year":1830,"n":2},{"site":"Angel Hollow","year":1833,"n":1},{"site":"Angel Hollow","year":1836,"n":2},{"site":"Angel Hollow","year":1839,"n":3},{"site":"Angel Hollow","year":1842,"n":2},{"site":"Angel Hollow","year":1845,"n":3},{"site":"Angel Hollow","year":1848,"n":2},{"site":"Angel Hollow","year":1851,"n":3},{"site":"Angel Hollow","year":1854,"n":2},{"site":"Angel Hollow","year":1857,"n":1},{"site":"Angel Hollow","year":1860,"n":2},{"site":"Angel Hollow","year":1863,"n":3},{"site":"Angel Hollow","year":1866,"n":2},{"site":"Angel Hollow","year":1869,"n":3},{"site":"Angel Hollow","year":1872,"n":4},{"site":"Angel Hollow","year":1874,"n":3},{"site":"Angel Hollow","year":1876,"n":2},{"site":"Angel Hollow","year":1880,"n":2},{"site":"Angel Hollow","year":1883,"n":1},{"site":"Angel Hollow","year":1886,"n":1},{"site":"Angel Hollow","year":1889,"n":2},{"site":"Angel Hollow","year":1892,"n":3},{"site":"Angel Hollow","year":1894,"n":4},{"site":"Angel Hollow","year":1896,"n":3},{"site":"Angel Hollow","year":1898,"n":2},{"site":"Angel Hollow","year":1900,"n":3},{"site":"Angel Hollow","year":1902,"n":2},{"site":"Angel Hollow","year":1904,"n":3},{"site":"Angel Hollow","year":1906,"n":4},{"site":"Angel Hollow","year":1908,"n":5},{"site":"Angel Hollow","year":1910,"n":6},{"site":"Angel Hollow","year":1912,"n":5},{"site":"Angel Hollow","year":1914,"n":4},{"site":"Angel Hollow","year":1916,"n":3},{"site":"Angel Hollow","year":1918,"n":4},{"site":"Angel Hollow","year":1920,"n":3},{"site":"Angel Hollow","year":1922,"n":2},{"site":"Angel Hollow","year":1925,"n":2},{"site":"Angel Hollow","year":1927,"n":1},{"site":"Angel Hollow","year":1929,"n":2},{"site":"Angel Hollow","year":1931,"n":1},{"site":"Angel Hollow","year":1934,"n":1},{"site":"Angel Hollow","year":1936,"n":0},{"site":"Angel Hollow","year":1939,"n":0},
{"site":"Hatton Ridge","year":1765,"n":0},{"site":"Hatton Ridge","year":1767,"n":1},{"site":"Hatton Ridge","year":1769,"n":2},{"site":"Hatton Ridge","year":1771,"n":3},{"site":"Hatton Ridge","year":1774,"n":4},{"site":"Hatton Ridge","year":1777,"n":4},{"site":"Hatton Ridge","year":1779,"n":3},{"site":"Hatton Ridge","year":1781,"n":2},{"site":"Hatton Ridge","year":1784,"n":1},{"site":"Hatton Ridge","year":1787,"n":1},{"site":"Hatton Ridge","year":1789,"n":0},{"site":"Hatton Ridge","year":1791,"n":1},{"site":"Hatton Ridge","year":1793,"n":2},{"site":"Hatton Ridge","year":1797,"n":2},{"site":"Hatton Ridge","year":1798,"n":3},{"site":"Hatton Ridge","year":1799,"n":2},{"site":"Hatton Ridge","year":1801,"n":2},{"site":"Hatton Ridge","year":1803,"n":1},{"site":"Hatton Ridge","year":1806,"n":0},{"site":"Hatton Ridge","year":1816,"n":0},{"site":"Hatton Ridge","year":1818,"n":1},{"site":"Hatton Ridge","year":1820,"n":2},{"site":"Hatton Ridge","year":1822,"n":3},{"site":"Hatton Ridge","year":1825,"n":3},{"site":"Hatton Ridge","year":1826,"n":4},{"site":"Hatton Ridge","year":1827,"n":3},{"site":"Hatton Ridge","year":1829,"n":2},{"site":"Hatton Ridge","year":1832,"n":2},{"site":"Hatton Ridge","year":1834,"n":3},{"site":"Hatton Ridge","year":1836,"n":2},{"site":"Hatton Ridge","year":1838,"n":3},{"site":"Hatton Ridge","year":1840,"n":2},{"site":"Hatton Ridge","year":1844,"n":2},{"site":"Hatton Ridge","year":1846,"n":3},{"site":"Hatton Ridge","year":1848,"n":2},{"site":"Hatton Ridge","year":1852,"n":3},{"site":"Hatton Ridge","year":1855,"n":2},{"site":"Hatton Ridge","year":1858,"n":3},{"site":"Hatton Ridge","year":1861,"n":2},{"site":"Hatton Ridge","year":1864,"n":3},{"site":"Hatton Ridge","year":1867,"n":2},{"site":"Hatton Ridge","year":1870,"n":3},{"site":"Hatton Ridge","year":1873,"n":2},{"site":"Hatton Ridge","year":1876,"n":3},{"site":"Hatton Ridge","year":1879,"n":2},{"site":"Hatton Ridge","year":1882,"n":3},{"site":"Hatton Ridge","year":1885,"n":2},{"site":"Hatton Ridge","year":1888,"n":3},{"site":"Hatton Ridge","year":1891,"n":3},{"site":"Hatton Ridge","year":1894,"n":4},{"site":"Hatton Ridge","year":1897,"n":4},{"site":"Hatton Ridge","year":1899,"n":3},{"site":"Hatton Ridge","year":1902,"n":2},{"site":"Hatton Ridge","year":1905,"n":3},{"site":"Hatton Ridge","year":1908,"n":2},{"site":"Hatton Ridge","year":1911,"n":3},{"site":"Hatton Ridge","year":1914,"n":2},{"site":"Hatton Ridge","year":1917,"n":3},{"site":"Hatton Ridge","year":1920,"n":2},{"site":"Hatton Ridge","year":1923,"n":3},{"site":"Hatton Ridge","year":1926,"n":2},{"site":"Hatton Ridge","year":1929,"n":1},{"site":"Hatton Ridge","year":1931,"n":2},{"site":"Hatton Ridge","year":1932,"n":1},{"site":"Hatton Ridge","year":1934,"n":0},{"site":"Hatton Ridge","year":1936,"n":0}
],
"p4": [
{"site":"McAtee Run","year":1760,"n":0},{"site":"McAtee Run","year":1785,"n":0},{"site":"McAtee Run","year":1786,"n":1},{"site":"McAtee Run","year":1793,"n":1},{"site":"McAtee Run","year":1794,"n":2},{"site":"McAtee Run","year":1795,"n":1},{"site":"McAtee Run","year":1802,"n":1},{"site":"McAtee Run","year":1804,"n":0},{"site":"McAtee Run","year":1813,"n":0},{"site":"McAtee Run","year":1815,"n":1},{"site":"McAtee Run","year":1832,"n":1},{"site":"McAtee Run","year":1834,"n":2},{"site":"McAtee Run","year":1835,"n":1},{"site":"McAtee Run","year":1842,"n":1},{"site":"McAtee Run","year":1844,"n":0},{"site":"McAtee Run","year":1847,"n":0},{"site":"McAtee Run","year":1848,"n":1},{"site":"McAtee Run","year":1849,"n":1},{"site":"McAtee Run","year":1851,"n":2},{"site":"McAtee Run","year":1853,"n":3},{"site":"McAtee Run","year":1855,"n":4},{"site":"McAtee Run","year":1857,"n":4},{"site":"McAtee Run","year":1858,"n":3},{"site":"McAtee Run","year":1859,"n":4},{"site":"McAtee Run","year":1860,"n":3},{"site":"McAtee Run","year":1861,"n":4},{"site":"McAtee Run","year":1863,"n":5},{"site":"McAtee Run","year":1865,"n":5},{"site":"McAtee Run","year":1866,"n":4},{"site":"McAtee Run","year":1867,"n":5},{"site":"McAtee Run","year":1868,"n":4},{"site":"McAtee Run","year":1869,"n":5},{"site":"McAtee Run","year":1871,"n":4},{"site":"McAtee Run","year":1874,"n":4},{"site":"McAtee Run","year":1876,"n":3},{"site":"McAtee Run","year":1878,"n":2},{"site":"McAtee Run","year":1880,"n":2},{"site":"McAtee Run","year":1881,"n":1},{"site":"McAtee Run","year":1882,"n":2},{"site":"McAtee Run","year":1887,"n":2},{"site":"McAtee Run","year":1888,"n":3},{"site":"McAtee Run","year":1889,"n":4},{"site":"McAtee Run","year":1895,"n":4},{"site":"McAtee Run","year":1896,"n":5},{"site":"McAtee Run","year":1897,"n":4},{"site":"McAtee Run","year":1898,"n":4},{"site":"McAtee Run","year":1899,"n":3},{"site":"McAtee Run","year":1900,"n":4},{"site":"McAtee Run","year":1903,"n":4},{"site":"McAtee Run","year":1904,"n":3},{"site":"McAtee Run","year":1905,"n":4},{"site":"McAtee Run","year":1907,"n":4},{"site":"McAtee Run","year":1908,"n":5},{"site":"McAtee Run","year":1909,"n":4},{"site":"McAtee Run","year":1910,"n":5},{"site":"McAtee Run","year":1911,"n":4},{"site":"McAtee Run","year":1912,"n":5},{"site":"McAtee Run","year":1914,"n":5},{"site":"McAtee Run","year":1915,"n":4},{"site":"McAtee Run","year":1916,"n":4},{"site":"McAtee Run","year":1917,"n":3},{"site":"McAtee Run","year":1918,"n":4},{"site":"McAtee Run","year":1920,"n":4},{"site":"McAtee Run","year":1922,"n":3},{"site":"McAtee Run","year":1923,"n":2},{"site":"McAtee Run","year":1925,"n":1},{"site":"McAtee Run","year":1928,"n":0},{"site":"McAtee Run","year":1936,"n":0},{"site":"McAtee Run","year":1937,"n":1},{"site":"McAtee Run","year":1946,"n":1},{"site":"McAtee Run","year":1947,"n":0},{"site":"McAtee Run","year":2008,"n":0},
{"site":"Boone Creek Barrens","year":1660,"n":2},{"site":"Boone Creek Barrens","year":1661,"n":1},{"site":"Boone Creek Barrens","year":1663,"n":2},{"site":"Boone Creek Barrens","year":1664,"n":1},{"site":"Boone Creek Barrens","year":1666,"n":2},{"site":"Boone Creek Barrens","year":1667,"n":1},{"site":"Boone Creek Barrens","year":1669,"n":2},{"site":"Boone Creek Barrens","year":1671,"n":1},{"site":"Boone Creek Barrens","year":1677,"n":1},{"site":"Boone Creek Barrens","year":1679,"n":0},{"site":"Boone Creek Barrens","year":1801,"n":0},{"site":"Boone Creek Barrens","year":1803,"n":2},{"site":"Boone Creek Barrens","year":1806,"n":2},{"site":"Boone Creek Barrens","year":1808,"n":1},{"site":"Boone Creek Barrens","year":1810,"n":2},{"site":"Boone Creek Barrens","year":1815,"n":2},{"site":"Boone Creek Barrens","year":1817,"n":3},{"site":"Boone Creek Barrens","year":1819,"n":2},{"site":"Boone Creek Barrens","year":1822,"n":2},{"site":"Boone Creek Barrens","year":1824,"n":1},{"site":"Boone Creek Barrens","year":1830,"n":1},{"site":"Boone Creek Barrens","year":1832,"n":2},{"site":"Boone Creek Barrens","year":1835,"n":2},{"site":"Boone Creek Barrens","year":1837,"n":1},{"site":"Boone Creek Barrens","year":1840,"n":1},{"site":"Boone Creek Barrens","year":1842,"n":0},{"site":"Boone Creek Barrens","year":1848,"n":0},{"site":"Boone Creek Barrens","year":1850,"n":1},{"site":"Boone Creek Barrens","year":1852,"n":1},{"site":"Boone Creek Barrens","year":1854,"n":0},{"site":"Boone Creek Barrens","year":1881,"n":0},{"site":"Boone Creek Barrens","year":1883,"n":1},{"site":"Boone Creek Barrens","year":1885,"n":2},{"site":"Boone Creek Barrens","year":1887,"n":3},{"site":"Boone Creek Barrens","year":1889,"n":4},{"site":"Boone Creek Barrens","year":1892,"n":5},{"site":"Boone Creek Barrens","year":1894,"n":5},{"site":"Boone Creek Barrens","year":1896,"n":6},{"site":"Boone Creek Barrens","year":1898,"n":7},{"site":"Boone Creek Barrens","year":1902,"n":7},{"site":"Boone Creek Barrens","year":1904,"n":6},{"site":"Boone Creek Barrens","year":1906,"n":5},{"site":"Boone Creek Barrens","year":1908,"n":4},{"site":"Boone Creek Barrens","year":1910,"n":3},{"site":"Boone Creek Barrens","year":1912,"n":4},{"site":"Boone Creek Barrens","year":1914,"n":3},{"site":"Boone Creek Barrens","year":1916,"n":4},{"site":"Boone Creek Barrens","year":1918,"n":3},{"site":"Boone Creek Barrens","year":1920,"n":4},{"site":"Boone Creek Barrens","year":1922,"n":5},{"site":"Boone Creek Barrens","year":1925,"n":5},{"site":"Boone Creek Barrens","year":1927,"n":4},{"site":"Boone Creek Barrens","year":1929,"n":5},{"site":"Boone Creek Barrens","year":1931,"n":4},{"site":"Boone Creek Barrens","year":1933,"n":2},{"site":"Boone Creek Barrens","year":1935,"n":1},{"site":"Boone Creek Barrens","year":1937,"n":0},{"site":"Boone Creek Barrens","year":1939,"n":1},{"site":"Boone Creek Barrens","year":1941,"n":2},{"site":"Boone Creek Barrens","year":1945,"n":2},{"site":"Boone Creek Barrens","year":1947,"n":1},{"site":"Boone Creek Barrens","year":1949,"n":2},{"site":"Boone Creek Barrens","year":1957,"n":2},{"site":"Boone Creek Barrens","year":1959,"n":1},{"site":"Boone Creek Barrens","year":1961,"n":0},{"site":"Boone Creek Barrens","year":1977,"n":0},{"site":"Boone Creek Barrens","year":1979,"n":1},{"site":"Boone Creek Barrens","year":1981,"n":2},{"site":"Boone Creek Barrens","year":1985,"n":2},{"site":"Boone Creek Barrens","year":1987,"n":3},{"site":"Boone Creek Barrens","year":1989,"n":2},{"site":"Boone Creek Barrens","year":1991,"n":2}
]
},
"vconcat": [
{
 "width": 813, "height": 244,
 "resolve": {"axis": {"x": "independent"}},
 "layer": [
  {"data": {"name": "p1"}, "mark": {"type": "line", "strokeWidth": 1.6},
   "encoding": {
    "x": {"field": "year", "type": "quantitative", "scale": {"domain": [1525, 2019], "nice": false, "zero": false},
          "axis": {"orient": "bottom", "values": [1600,1700,1800,1900,2000], "labels": false, "title": null, "tickSize": 12}},
    "y": {"field": "n", "type": "quantitative", "scale": {"domain": [-0.5, 10], "nice": false, "zero": false},
          "axis": {"values": [0,2,4,6,8,10], "title": null, "tickSize": 8, "labelPadding": 12, "format": "d"}},
    "color": {"field": "site", "type": "nominal", "scale": {"domain": ["Johns Mountain","Choccolocco Mountain","Brymer Mountain"], "range": ["#000000","#888888","#888888"]},
              "legend": {"title": null, "orient": "none", "legendX": 4, "legendY": 10, "symbolType": "M0,0H10", "symbolSize": 169, "labelOffset": 70}},
    "strokeDash": {"field": "site", "type": "nominal", "scale": {"domain": ["Johns Mountain","Choccolocco Mountain","Brymer Mountain"], "range": [[1,0],[1.5,4],[16,7]]},
              "legend": {"title": null, "orient": "none", "legendX": 4, "legendY": 10, "symbolType": "M0,0H10", "symbolSize": 169, "labelOffset": 70}}
   }},
  {"data": {"values": [{"threshold": 5}]}, "mark": {"type": "rule", "color": "black", "strokeWidth": 1.3, "strokeDash": [1.5, 5.8]},
   "encoding": {"x": {"datum": 1529, "type": "quantitative", "axis": {"orient": "bottom", "values": [1540,1560,1580,1620,1640,1660,1680,1720,1740,1760,1780,1820,1840,1860,1880,1920,1940,1960,1980], "labels": false, "title": null, "tickSize": 6}}, "x2": {"datum": 2017}, "y": {"field": "threshold", "type": "quantitative"}}},
  {"data": {"values": [{"label": "southern Appalachians"}]}, "mark": {"type": "text", "align": "right", "baseline": "alphabetic", "fontSize": 26, "fontWeight": "bold", "color": "black"},
   "encoding": {"x": {"datum": 2014, "type": "quantitative", "axis": null}, "y": {"datum": 8.77, "type": "quantitative"}, "text": {"field": "label"}}}
 ]
},
{
 "width": 813, "height": 244,
 "resolve": {"axis": {"x": "independent"}},
 "layer": [
  {"data": {"name": "p2"}, "mark": {"type": "line", "strokeWidth": 1.6},
   "encoding": {
    "x": {"field": "year", "type": "quantitative", "scale": {"domain": [1525, 2019], "nice": false, "zero": false},
          "axis": {"orient": "bottom", "values": [1600,1700,1800,1900,2000], "labels": false, "title": null, "tickSize": 12}},
    "y": {"field": "n", "type": "quantitative", "scale": {"domain": [-0.5, 10], "nice": false, "zero": false},
          "axis": {"values": [0,2,4,6,8,10], "title": "Fires per decade (n)", "titleY": 234, "titlePadding": 20, "tickSize": 8, "labelPadding": 12, "format": "d"}},
    "color": {"field": "site", "type": "nominal", "scale": {"domain": ["Rowland Creek Headwaters","Saltwell Hollow","Huckleberry Creek","Lemm Swamp"], "range": ["#888888","#888888","#888888","#888888"]},
              "legend": {"title": null, "orient": "none", "legendX": 4, "legendY": 7, "symbolType": "M0,0H15.38", "symbolSize": 169, "labelOffset": 113}},
    "strokeDash": {"field": "site", "type": "nominal", "scale": {"domain": ["Rowland Creek Headwaters","Saltwell Hollow","Huckleberry Creek","Lemm Swamp"], "range": [[1,0],[1.5,4],[12,5],[14,4,2,4]]},
              "legend": {"title": null, "orient": "none", "legendX": 4, "legendY": 7, "symbolType": "M0,0H15.38", "symbolSize": 169, "labelOffset": 113}}
   }},
  {"data": {"values": [{"threshold": 5}]}, "mark": {"type": "rule", "color": "#888888", "strokeWidth": 1.3, "strokeDash": [1.5, 5.8]},
   "encoding": {"x": {"datum": 1529, "type": "quantitative", "axis": {"orient": "bottom", "values": [1540,1560,1580,1620,1640,1660,1680,1720,1740,1760,1780,1820,1840,1860,1880,1920,1940,1960,1980], "labels": false, "title": null, "tickSize": 6}}, "x2": {"datum": 2017}, "y": {"field": "threshold", "type": "quantitative"}}},
  {"data": {"values": [{"label": "Eastern Highland Rim"}]}, "mark": {"type": "text", "align": "right", "baseline": "alphabetic", "fontSize": 26, "fontWeight": "bold", "color": "black"},
   "encoding": {"x": {"datum": 2014, "type": "quantitative", "axis": null}, "y": {"datum": 8.75, "type": "quantitative"}, "text": {"field": "label"}}}
 ]
},
{
 "width": 813, "height": 244,
 "resolve": {"axis": {"x": "independent"}},
 "layer": [
  {"data": {"name": "p3"}, "mark": {"type": "line", "strokeWidth": 1.6},
   "encoding": {
    "x": {"field": "year", "type": "quantitative", "scale": {"domain": [1525, 2019], "nice": false, "zero": false},
          "axis": {"orient": "bottom", "values": [1600,1700,1800,1900,2000], "labels": false, "title": null, "tickSize": 12}},
    "y": {"field": "n", "type": "quantitative", "scale": {"domain": [-0.5, 10], "nice": false, "zero": false},
          "axis": {"values": [0,2,4,6,8,10], "title": null, "tickSize": 8, "labelPadding": 12, "format": "d"}},
    "color": {"field": "site", "type": "nominal", "scale": {"domain": ["Savage Gulf State Natural Area","Angel Hollow","Hatton Ridge"], "range": ["#000000","#000000","#000000"]},
              "legend": {"title": null, "orient": "none", "legendX": 5, "legendY": 10.7, "symbolType": "M0,0H9.85", "symbolSize": 169, "labelOffset": 69}},
    "strokeDash": {"field": "site", "type": "nominal", "scale": {"domain": ["Savage Gulf State Natural Area","Angel Hollow","Hatton Ridge"], "range": [[1,0],[1.5,4],[15,5]]},
              "legend": {"title": null, "orient": "none", "legendX": 5, "legendY": 10.7, "symbolType": "M0,0H9.85", "symbolSize": 169, "labelOffset": 69}}
   }},
  {"data": {"values": [{"threshold": 5}]}, "mark": {"type": "rule", "color": "black", "strokeWidth": 1.3, "strokeDash": [1.5, 5.8]},
   "encoding": {"x": {"datum": 1529, "type": "quantitative", "axis": {"orient": "bottom", "values": [1540,1560,1580,1620,1640,1660,1680,1720,1740,1760,1780,1820,1840,1860,1880,1920,1940,1960,1980], "labels": false, "title": null, "tickSize": 6}}, "x2": {"datum": 2017}, "y": {"field": "threshold", "type": "quantitative"}}},
  {"data": {"values": [{"note": "biennial burning"}]}, "mark": {"type": "text", "align": "center", "baseline": "middle", "fontSize": 17, "fontWeight": "bold", "fontStyle": "italic", "color": "black"},
   "encoding": {"x": {"datum": 1711, "type": "quantitative", "axis": null}, "y": {"datum": 5, "type": "quantitative"}, "text": {"field": "note"}}},
  {"data": {"values": [{"label": "Cumberland Plateau"}]}, "mark": {"type": "text", "align": "right", "baseline": "alphabetic", "fontSize": 26, "fontWeight": "bold", "color": "black"},
   "encoding": {"x": {"datum": 2016.5, "type": "quantitative", "axis": null}, "y": {"datum": 8.75, "type": "quantitative"}, "text": {"field": "label"}}}
 ]
},
{
 "width": 813, "height": 244,
 "resolve": {"axis": {"x": "independent"}},
 "layer": [
  {"data": {"name": "p4"}, "mark": {"type": "line", "strokeWidth": 1.6},
   "encoding": {
    "x": {"field": "year", "type": "quantitative", "scale": {"domain": [1525, 2019], "nice": false, "zero": false},
          "axis": {"orient": "bottom", "values": [1600,1700,1800,1900,2000], "format": "d", "labelOverlap": false, "labelFlush": false, "labelPadding": 16, "title": "Calendar year", "titleY": 94, "titleBaseline": "alphabetic", "tickSize": 12}},
    "y": {"field": "n", "type": "quantitative", "scale": {"domain": [-0.5, 10], "nice": false, "zero": false},
          "axis": {"values": [0,2,4,6,8,10], "title": null, "tickSize": 8, "labelPadding": 12, "format": "d"}},
    "color": {"field": "site", "type": "nominal", "scale": {"domain": ["McAtee Run","Boone Creek Barrens"], "range": ["#000000","#888888"]},
              "legend": {"title": null, "orient": "none", "legendX": 11, "legendY": 14.7, "symbolType": "M0,0H8", "symbolSize": 169, "labelOffset": 54}},
    "strokeDash": {"field": "site", "type": "nominal", "scale": {"domain": ["McAtee Run","Boone Creek Barrens"], "range": [[1,0],[1.5,4]]},
              "legend": {"title": null, "orient": "none", "legendX": 11, "legendY": 14.7, "symbolType": "M0,0H8", "symbolSize": 169, "labelOffset": 54}}
   }},
  {"data": {"values": [{"threshold": 5}]}, "mark": {"type": "rule", "color": "black", "strokeWidth": 1.3, "strokeDash": [1.5, 5.8]},
   "encoding": {"x": {"datum": 1529, "type": "quantitative", "axis": {"orient": "bottom", "values": [1540,1560,1580,1620,1640,1660,1680,1720,1740,1760,1780,1820,1840,1860,1880,1920,1940,1960,1980], "labels": false, "title": null, "tickSize": 6}}, "x2": {"datum": 2017}, "y": {"field": "threshold", "type": "quantitative"}}},
  {"data": {"values": [{"label": "Ohio River Valley"}]}, "mark": {"type": "text", "align": "right", "baseline": "alphabetic", "fontSize": 26, "fontWeight": "bold", "color": "black"},
   "encoding": {"x": {"datum": 2016.5, "type": "quantitative", "axis": null}, "y": {"datum": 8.73, "type": "quantitative"}, "text": {"field": "label"}}}
 ]
}
]
}
